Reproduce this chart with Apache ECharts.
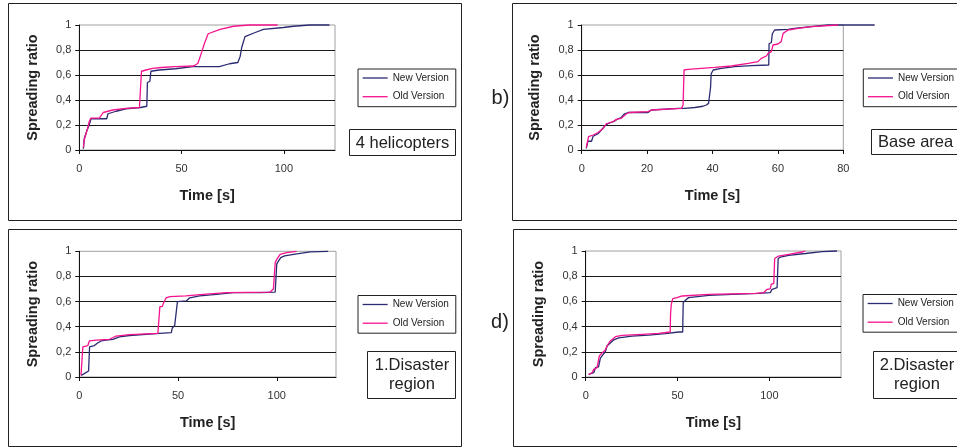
<!DOCTYPE html>
<html><head><meta charset="utf-8">
<script src="https://cdn.jsdelivr.net/npm/echarts@6/dist/echarts.min.js"></script>
<style>html,body{margin:0;padding:0;background:#fff}#c{width:957px;height:448px}</style>
</head><body><div id="c"></div><script>
// ---- data (time [s], spreading ratio) ----
const seriesNames = ['New Version', 'Old Version'];
const yTickLabels = ['0', '0,2', '0,4', '0,6', '0,8', '1'];
const xTicksA = [0, 50, 100];
const xTicksB = [0, 20, 40, 60, 80];
const xTicksC = [0, 50, 100];
const xTicksD = [0, 50, 100];
const panelLabels = ['4 helicopters', 'Base area', '1.Disaster\nregion', '2.Disaster\nregion'];
const panelLetters = ['b)', 'd)'];

const aNew = [[2,0.01],[2.4,0.09],[3,0.1],[3.8,0.16],[4.6,0.19],[5.2,0.22],[5.7,0.25],[13.4,0.25],[14,0.29],[18,0.31],[22.8,0.33],[30,0.34],[33,0.35],[33.3,0.54],[34.5,0.55],[35,0.63],[39,0.64],[47,0.65],[55.5,0.667],[68.5,0.667],[73.4,0.69],[77.5,0.7],[78.6,0.747],[79.4,0.82],[80,0.83],[81,0.907],[86,0.94],[90,0.965],[99.8,0.98],[104.7,0.99],[112.6,1.0],[122.3,1.0]];
const aOld = [[2,0.02],[2.4,0.08],[3.3,0.13],[4,0.17],[4.9,0.23],[5.7,0.255],[9.8,0.255],[11.7,0.3],[16.3,0.32],[22.8,0.333],[29.4,0.34],[30.2,0.35],[30.4,0.63],[32.6,0.64],[35.9,0.653],[40,0.66],[47,0.667],[56,0.672],[58,0.694],[59.9,0.787],[61.2,0.854],[63,0.93],[68.8,0.965],[75.4,0.99],[83,1.0],[96.9,1.0]];
const bNew = [[1.4,0.013],[1.9,0.07],[3,0.07],[3.5,0.11],[5,0.13],[6,0.16],[7,0.19],[8,0.21],[10,0.23],[11.1,0.25],[12.1,0.26],[13.1,0.29],[14.2,0.3],[20.3,0.3],[21.3,0.32],[29.5,0.333],[31.5,0.333],[34.6,0.34],[37.1,0.35],[38.1,0.36],[38.8,0.373],[39.2,0.373],[39.4,0.5],[39.6,0.61],[40.2,0.64],[42.7,0.653],[46.8,0.667],[51.9,0.675],[57.2,0.68],[57.3,0.85],[58,0.86],[58.3,0.93],[59,0.96],[63.1,0.965],[65,0.973],[70.2,0.987],[75.3,1.0],[89.6,1.0]];
const bOld = [[1.4,0.02],[2.1,0.107],[3.5,0.12],[5,0.14],[6.5,0.17],[7.5,0.21],[9.6,0.227],[10.6,0.245],[12.1,0.253],[13.7,0.29],[14.5,0.3],[20.3,0.307],[21.3,0.32],[30.5,0.333],[31,0.36],[31.3,0.64],[32.5,0.645],[40.7,0.661],[45.8,0.672],[50.9,0.693],[53.9,0.707],[54.9,0.733],[56.5,0.752],[57,0.773],[58,0.787],[58.5,0.84],[60,0.848],[61,0.867],[61.6,0.933],[63.1,0.96],[66.2,0.973],[70.2,0.987],[78.4,1.0]];
const cNew = [[0.85,0.013],[2.5,0.027],[3.4,0.04],[4.7,0.048],[5.1,0.048],[5.2,0.24],[7.6,0.25],[9.3,0.27],[11,0.287],[13.6,0.294],[17,0.3],[20.3,0.32],[25.4,0.33],[40.7,0.347],[46.6,0.353],[47.1,0.39],[48.3,0.41],[49.2,0.42],[49.5,0.42],[49.7,0.6],[54.2,0.605],[55.9,0.63],[61,0.645],[69.5,0.658],[78,0.671],[91.5,0.671],[99.2,0.676],[99.6,0.676],[100,0.9],[100.8,0.91],[102,0.95],[104,0.963],[108.5,0.976],[117,0.995],[126,1.0]];
const cOld = [[0.85,0.013],[1.7,0.02],[1.8,0.24],[2.5,0.247],[4.3,0.25],[5.1,0.287],[8.5,0.294],[15.3,0.3],[18.6,0.326],[25.4,0.337],[39.8,0.347],[40.6,0.35],[40.8,0.56],[42,0.56],[42.7,0.59],[44,0.63],[45.8,0.64],[54,0.645],[62.7,0.658],[74.6,0.671],[96.6,0.676],[98.3,0.7],[98.8,0.7],[99.2,0.91],[100,0.936],[101.7,0.976],[105,0.99],[110,1.0]];
const dNew = [[1.6,0.02],[4.4,0.034],[5.3,0.074],[7,0.08],[8,0.15],[8.9,0.167],[9.8,0.18],[10.7,0.2],[11.6,0.246],[13.4,0.27],[15.2,0.294],[18,0.31],[25.2,0.325],[34.3,0.333],[43.4,0.344],[50.6,0.357],[52.8,0.357],[53.1,0.59],[54.3,0.61],[56,0.63],[67,0.648],[79.7,0.656],[94.2,0.664],[100.5,0.67],[101.5,0.696],[104.2,0.709],[104.6,0.709],[104.8,0.94],[106,0.952],[110.5,0.966],[119.6,0.98],[128.7,0.995],[136.8,1.0]];
const dOld = [[1.6,0.02],[3.4,0.034],[4.4,0.06],[6.2,0.074],[7,0.08],[7.4,0.167],[8.9,0.19],[10.7,0.214],[11.6,0.246],[13.4,0.286],[16.2,0.32],[19.8,0.33],[30.7,0.339],[39.7,0.347],[46,0.357],[46.2,0.5],[46.6,0.577],[47.4,0.622],[49.7,0.63],[52.5,0.643],[67,0.656],[92.4,0.664],[96.9,0.669],[98.7,0.696],[100.5,0.7],[101,0.735],[102.4,0.743],[102.7,0.743],[102.9,0.94],[105,0.96],[110.5,0.974],[117.8,0.992],[119.6,1.0]];

// ---- layout ----
const FONT = '"Liberation Sans", Arial, Helvetica, sans-serif';
const INK = '#222';
const NEW_COLOR = '#2b2b72';
const OLD_COLOR = '#f5148e';

// seriesMax: range of an invisible overlay axis used when a series runs past the visible axis end
const panels = [
  { grid: { left: 79.3, top: 25, width: 255.7, height: 125 }, xMax: 125, ticks: xTicksA, data: [aNew, aOld], legend: { left: 358, top: 69 } },
  { grid: { left: 581.7, top: 25, width: 261.6, height: 125 }, xMax: 80, seriesMax: 90, ticks: xTicksB, data: [bNew, bOld], legend: { left: 863.3, top: 69 } },
  { grid: { left: 79.3, top: 251.3, width: 256.7, height: 125.7 }, xMax: 130, ticks: xTicksC, data: [cNew, cOld], legend: { left: 358, top: 295.5 } },
  { grid: { left: 585.7, top: 251, width: 255.3, height: 126 }, xMax: 139, ticks: xTicksD, data: [dNew, dOld], legend: { left: 863, top: 294.5 } }
];

const grids = [], xAxes = [], yAxes = [], series = [], legends = [];
panels.forEach((p, i) => {
  grids.push(Object.assign({ show: true, borderColor: '#a0a0a0', borderWidth: 1, backgroundColor: '#fff', containLabel: false }, p.grid));
  xAxes.push({
    type: 'value', gridIndex: i, min: 0, max: p.xMax,
    name: 'Time [s]', nameLocation: 'middle', nameGap: 38,
    nameTextStyle: { fontFamily: FONT, fontWeight: 'bold', fontSize: 14.5, color: INK },
    axisLine: { show: true, onZero: false, lineStyle: { color: '#111', width: 1 } },
    axisTick: { show: true, length: 4, customValues: p.ticks, lineStyle: { color: '#111' } },
    axisLabel: { customValues: p.ticks, margin: 13, fontFamily: FONT, fontSize: 11, color: '#333' },
    splitLine: { show: false }
  });
  yAxes.push({
    type: 'value', gridIndex: i, min: 0, max: 1, interval: 0.2,
    name: 'Spreading ratio', nameLocation: 'middle', nameGap: 39,
    nameTextStyle: { fontFamily: FONT, fontWeight: 'bold', fontSize: 14.5, color: INK },
    axisLine: { show: true, lineStyle: { color: '#111', width: 1 } },
    axisTick: { show: true, length: 4, lineStyle: { color: '#111' } },
    axisLabel: { margin: 8, fontFamily: FONT, fontSize: 11, color: '#333',
      formatter: v => yTickLabels[Math.round(v / 0.2)] },
    splitLine: { show: true, showMinLine: false, showMaxLine: false, lineStyle: { color: '#1a1a1a', width: 1 } }
  });
});

panels.forEach((p, i) => {
  let axisIdx = i;
  if (p.seriesMax) {
    axisIdx = grids.length;
    grids.push({ show: false, left: p.grid.left, top: p.grid.top, height: p.grid.height,
      width: p.grid.width * p.seriesMax / p.xMax, containLabel: false });
    xAxes.push({ type: 'value', gridIndex: axisIdx, min: 0, max: p.seriesMax, show: false });
    yAxes.push({ type: 'value', gridIndex: axisIdx, min: 0, max: 1, show: false });
  }
  p.data.forEach((d, k) => {
    series.push({
      type: 'line', name: seriesNames[k], xAxisIndex: axisIdx, yAxisIndex: axisIdx,
      data: d, symbol: 'none', showSymbol: false, smooth: false, clip: false, z: 3 + k,
      lineStyle: { color: k === 0 ? NEW_COLOR : OLD_COLOR, width: 1.3 },
      itemStyle: { color: k === 0 ? NEW_COLOR : OLD_COLOR },
      animation: false
    });
  });
  legends.push({
    orient: 'vertical', left: p.legend.left, top: p.legend.top,
    data: seriesNames, selectedMode: false,
    borderColor: INK, borderWidth: 1, backgroundColor: '#fff',
    padding: [4, 7, 5, 4], itemWidth: 25, itemHeight: 10, itemGap: 8.7,
    itemStyle: { color: 'rgba(0,0,0,0)', borderColor: 'rgba(0,0,0,0)', borderWidth: 0 },
    lineStyle: { width: 1.3 },
    textStyle: { fontFamily: FONT, fontSize: 10, color: INK }
  });
});

function frame(x, y, w, h) {
  return { type: 'rect', silent: true, z: 0, shape: { x, y, width: w, height: h }, style: { fill: 'none', stroke: INK, lineWidth: 1 } };
}
function box(x, y, w, h) {
  return { type: 'rect', silent: true, z: 10, shape: { x, y, width: w, height: h }, style: { fill: '#fff', stroke: INK, lineWidth: 1 } };
}
function txt(text, x, y, size, align) {
  return { type: 'text', silent: true, z: 11, x, y, style: { text, fontFamily: FONT, fontSize: size, fill: INK, align: align || 'center', verticalAlign: 'middle', lineHeight: size * 1.15 } };
}

const graphic = [
  frame(8.5, 3.5, 453, 217), frame(512.5, 3.5, 470, 217),
  frame(8.5, 229.5, 453, 217), frame(513.5, 229.5, 470, 217),
  box(349.5, 129.5, 106, 26), txt(panelLabels[0], 402.5, 143, 16.5),
  box(871.5, 129.5, 100, 25), txt(panelLabels[1], 878, 142.5, 16.5, 'left'),
  box(367.5, 351.5, 88, 47), txt(panelLabels[2], 412, 375, 16.5),
  box(873.5, 351.5, 100, 47), txt(panelLabels[3], 917, 375, 16.5),
  txt(panelLetters[0], 500.5, 98, 20), txt(panelLetters[1], 500, 322, 20)
];

const chart = echarts.init(document.getElementById('c'), null, { renderer: 'canvas' });
chart.setOption({
  animation: false,
  backgroundColor: '#fff',
  grid: grids, xAxis: xAxes, yAxis: yAxes, series, legend: legends, graphic
});
</script></body></html>
